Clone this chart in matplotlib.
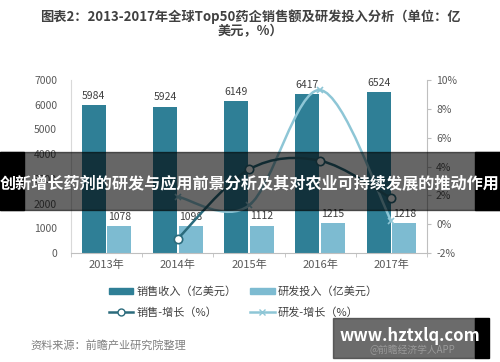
import matplotlib
matplotlib.use("Agg")
import matplotlib.pyplot as plt
from matplotlib.patches import Rectangle, PathPatch
from matplotlib.path import Path
from matplotlib.lines import Line2D
from matplotlib.ticker import FuncFormatter, FixedLocator
import numpy as np

plt.rcParams['font.family'] = ['Noto Sans CJK SC', 'DejaVu Sans']

# 数据
years = ['2013年', '2014年', '2015年', '2016年', '2017年']
sales = [5984, 5924, 6149, 6417, 6524]
rd = [1078, 1098, 1112, 1215, 1218]
sales_growth = [-1.0, 3.8, 4.4, 1.8]   # 2014-2017
rd_growth = [1.9, 1.3, 9.3, 0.2]       # 2014-2017

c_dark = '#2f7f96'
c_light = '#7dbbd1'
c_line1 = '#2b6b7c'
c_line2 = '#8ec6d6'
c_text = '#595959'


def smooth_path(xs, ys):
    # Excel 式平滑线：Catmull-Rom 转三次贝塞尔
    pts = list(zip(xs, ys))
    verts = [pts[0]]
    codes = [Path.MOVETO]
    n = len(pts)
    for i in range(n - 1):
        p0 = np.array(pts[max(i - 1, 0)])
        p1 = np.array(pts[i])
        p2 = np.array(pts[i + 1])
        p3 = np.array(pts[min(i + 2, n - 1)])
        c1 = p1 + (p2 - p0) / 6
        c2 = p2 - (p3 - p1) / 6
        verts += [tuple(c1), tuple(c2), tuple(p2)]
        codes += [Path.CURVE4] * 3
    return Path(verts, codes)


fig = plt.figure(figsize=(5, 3.62), dpi=100)
ax = fig.add_axes([0.142, 0.301, 0.712, 0.478])

x = np.arange(len(years))
w = 0.335
b1 = ax.bar(x - 0.18, sales, w, color=c_dark, zorder=2)
b2 = ax.bar(x + 0.18, rd, w, color=c_light, zorder=2)
for rect, v in zip(b1, sales):
    ax.annotate(str(v), (rect.get_x() + rect.get_width() / 2, v), xytext=(0, 3),
                textcoords='offset points', ha='center', va='bottom', fontsize=7.5, color='#404040')
for rect, v in zip(b2, rd):
    ax.annotate(str(v), (rect.get_x() + rect.get_width() / 2, v), xytext=(0, 3),
                textcoords='offset points', ha='center', va='bottom', fontsize=7.5, color='#404040')

ax.set_xlim(-0.5, 4.5)
ax.set_ylim(0, 7000)
ax.set_yticks(range(0, 7001, 1000))
ax.set_xticks(x)
ax.set_xticklabels(years)
ax.xaxis.set_minor_locator(FixedLocator(np.arange(-0.5, 4.6, 1)))
ax.tick_params(axis='x', which='major', length=0, labelsize=8, colors=c_text, pad=5)
ax.tick_params(axis='x', which='minor', length=3, color='#bfbfbf')
ax.tick_params(axis='y', length=0, labelsize=7.5, colors=c_text, pad=10)
for s in ['top', 'right']:
    ax.spines[s].set_visible(False)
ax.spines['left'].set_color('#d9d9d9')
ax.spines['bottom'].set_color('#bfbfbf')

ax2 = ax.twinx()
ax2.set_ylim(-2, 10)
ax2.set_yticks(range(-2, 11, 2))
ax2.yaxis.set_major_formatter(FuncFormatter(lambda v, p: '%d%%' % v))
ax2.tick_params(axis='y', length=3, direction='out', color='#bfbfbf', labelsize=7.5, colors=c_text)
for s in ['top', 'left', 'bottom']:
    ax2.spines[s].set_visible(False)
ax2.spines['right'].set_color('#bfbfbf')

xg = x[1:]
ax2.add_patch(PathPatch(smooth_path(xg, rd_growth), fill=False, edgecolor=c_line2, lw=1.8, zorder=3))
ax2.plot(xg, rd_growth, ls='none', marker='x', ms=4, mew=1.2, color=c_line2, zorder=4)
ax2.add_patch(PathPatch(smooth_path(xg, sales_growth), fill=False, edgecolor=c_line1, lw=1.8, zorder=5))
ax2.plot(xg, sales_growth, ls='none', marker='o', ms=6, mfc='white', mec=c_line1, mew=1.2, zorder=6)

handles = [
    Rectangle((0, 0), 1, 1, color=c_dark),
    Line2D([], [], color=c_line1, lw=1.8, marker='o', ms=5, mfc='white', mec=c_line1),
    Rectangle((0, 0), 1, 1, color=c_light),
    Line2D([], [], color=c_line2, lw=1.8, marker='x', ms=4, mec=c_line2),
]
labels = ['销售收入（亿美元）', '销售-增长（%）', '研发投入（亿美元）', '研发-增长（%）']
fig.legend(handles, labels, ncol=2, loc='center', bbox_to_anchor=(0.487, 0.166), frameon=False,
           fontsize=8, labelcolor='#404040', handlelength=2.2, handleheight=0.5,
           columnspacing=1.2, labelspacing=0.95, handletextpad=0.3)

fig.text(0.5, 0.955, '图表2：2013-2017年全球Top50药企销售额及研发投入分析（单位：亿',
         ha='center', va='center', fontsize=9.5, fontweight='bold', color='#404040')
fig.text(0.5, 0.913, '美元，%）', ha='center', va='center', fontsize=9.5, fontweight='bold', color='#404040')
fig.text(0.06, 0.047, '资料来源：前瞻产业研究院整理', ha='left', va='center', fontsize=8,
         style='italic', color='#7f7f7f')

# 横幅
H = 362.0
fig.patches.append(Rectangle((0, 1 - 210 / H), 1, 58 / H, transform=fig.transFigure,
                             color='black', alpha=0.6, zorder=10))
fig.patches.append(Rectangle((0, 1 - 210 / H), 24 / 500, 58 / H, transform=fig.transFigure,
                             color='black', zorder=10))
fig.patches.append(Rectangle((475 / 500, 1 - 210 / H), 25 / 500, 58 / H, transform=fig.transFigure,
                             color='black', zorder=10))
fig.text(0.5, 1 - 183 / H, '创新增长药剂的研发与应用前景分析及其对农业可持续发展的推动作用',
         ha='center', va='center', fontsize=11.6, fontweight='bold', color='white', zorder=11)

# 右下角水印
fig.patches.append(Rectangle((333 / 500, 1 - 358 / H), 142 / 500, 40 / H, transform=fig.transFigure,
                             color='#3a3a3a', alpha=0.75, zorder=10))
fig.patches.append(Rectangle((475 / 500, 1 - 358 / H), 14 / 500, 40 / H, transform=fig.transFigure,
                             color='black', zorder=10))
fig.text(412 / 500, 1 - 350 / H, '@前瞻经济学人APP', ha='center', va='center', fontsize=7,
         color='#9a9a9a', zorder=11)
fig.text(410 / 500, 1 - 336 / H, 'www.hztxlq.com', ha='center', va='center', fontsize=12,
         fontweight='bold', color='white', zorder=12)

fig.savefig('out.png', dpi=100)
